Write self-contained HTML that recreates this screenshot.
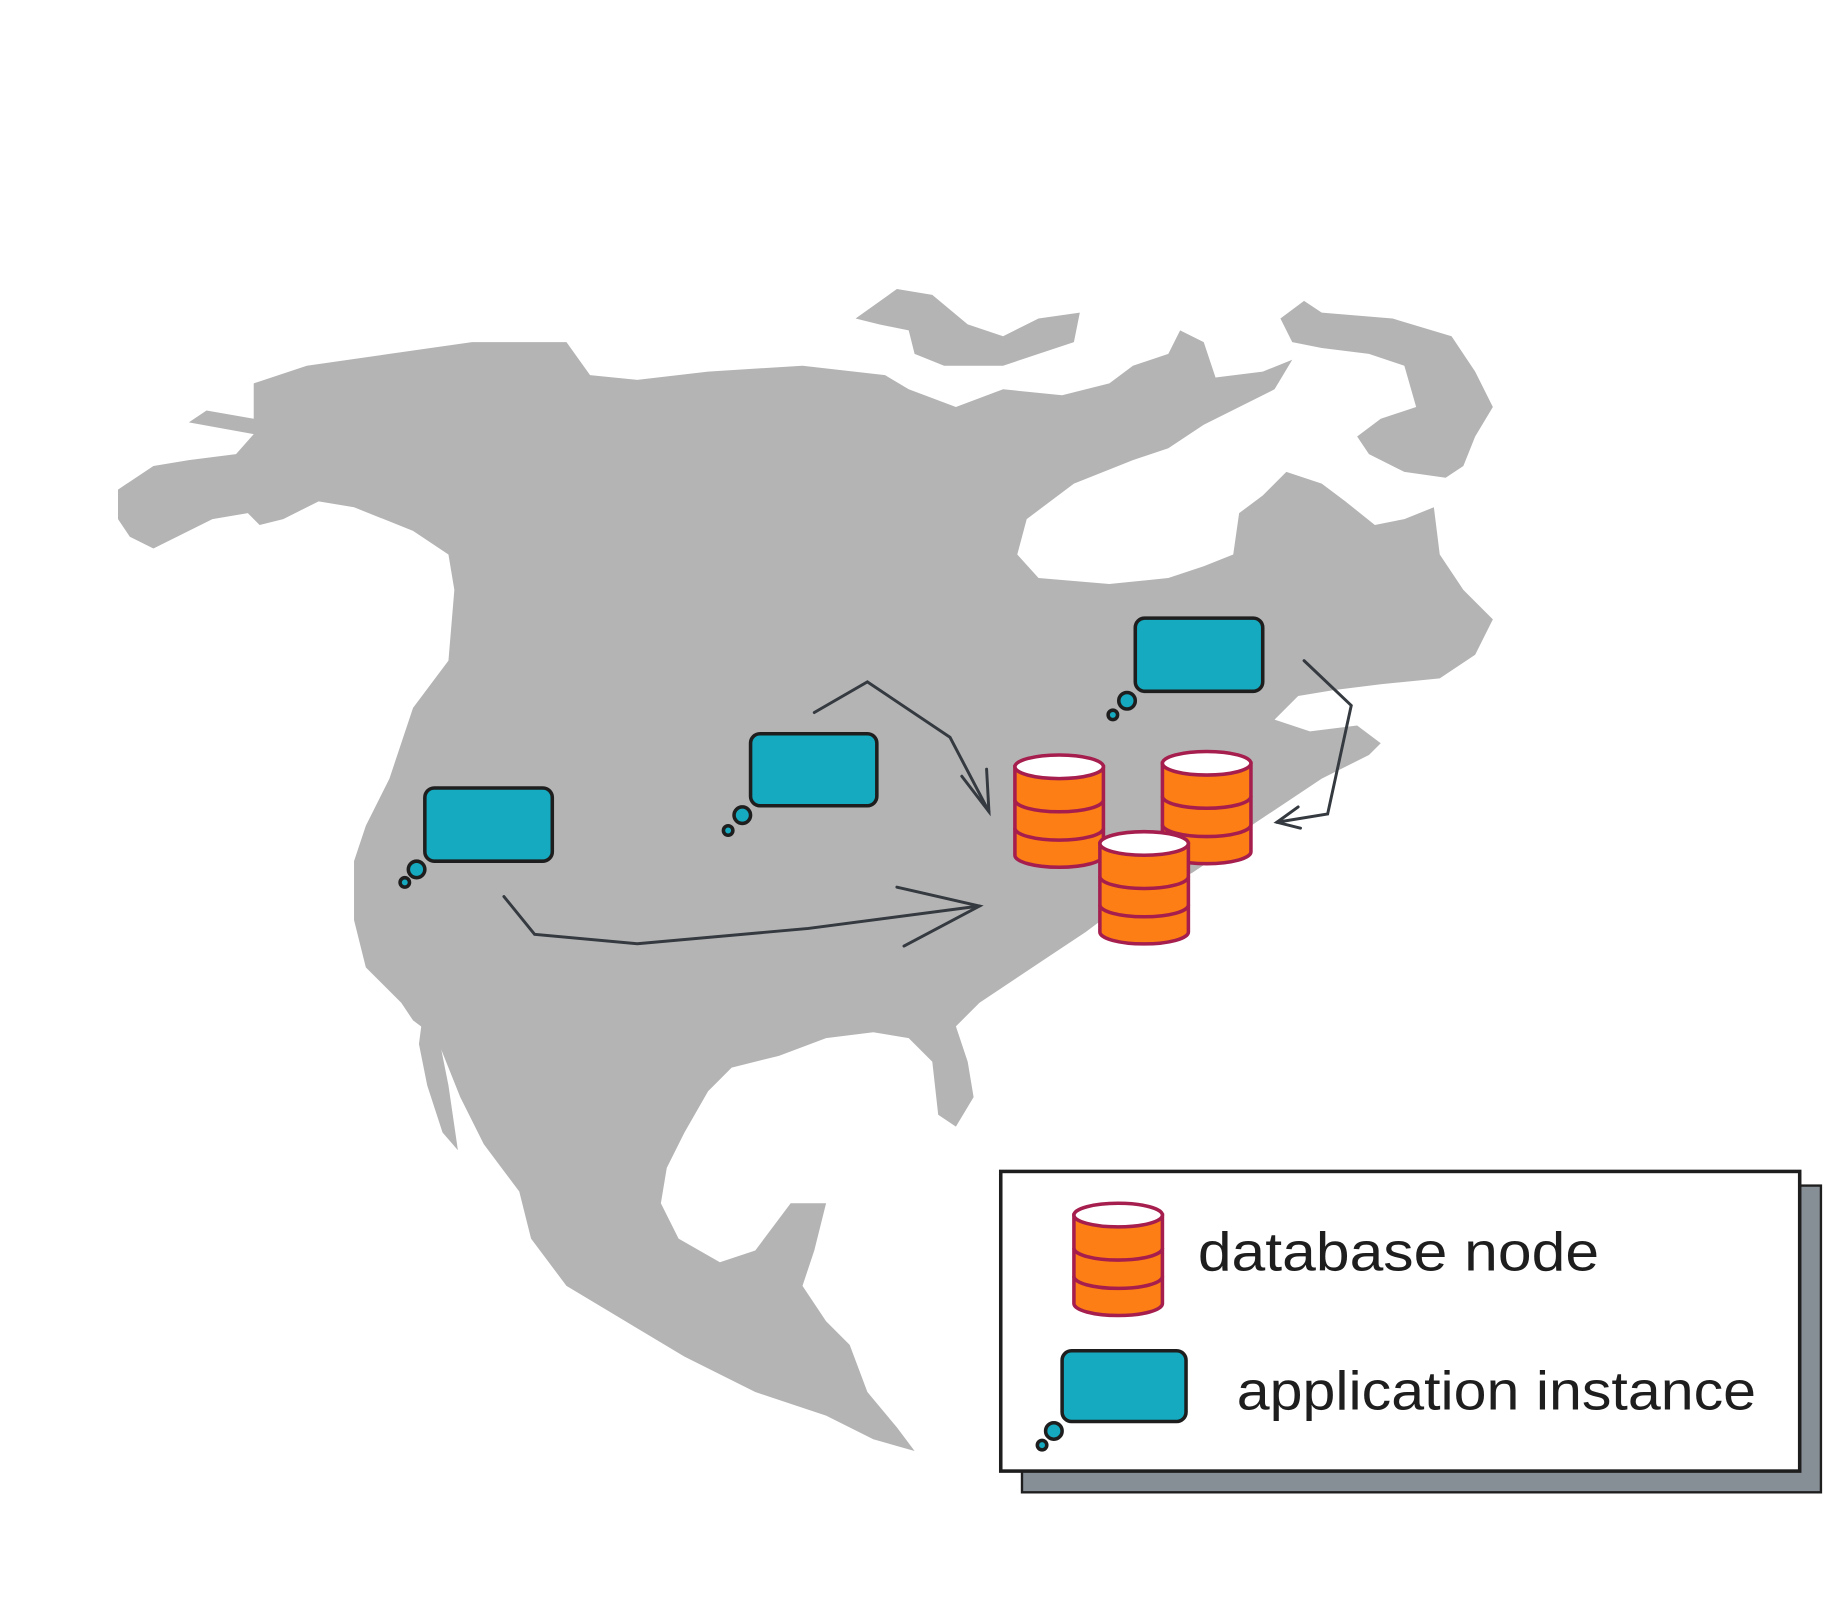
<!DOCTYPE html>
<html><head><meta charset="utf-8"><style>
html,body{margin:0;padding:0;background:#fff}
svg{display:block}
text{font-family:"Liberation Sans","DejaVu Sans",sans-serif;fill:#1e1e1e}
</style></head><body>
<svg width="1841" height="1615" viewBox="0 0 1560 1369" preserveAspectRatio="none" xmlns="http://www.w3.org/2000/svg">
<rect width="1560" height="1369" fill="#fff"/>
<g fill="#b4b4b4">
<path d="M100,415 L130,395 L160,390 L200,385 L215,368 L160,358 L175,348 L215,355 L215,325 L260,310 L330,300 L400,290 L480,290 L500,318 L540,322 L600,315 L680,310 L750,318 L770,330 L810,345 L850,330 L900,335 L940,325 L960,310 L990,300 L1000,280 L1020,290 L1030,320 L1070,315 L1095,305 L1080,330 L1020,360 L990,380 L960,390 L910,410 L870,440 L862,470 L880,490 L940,495 L990,490 L1020,480 L1045,470 L1050,435 L1070,420 L1090,400 L1120,410 L1140,425 L1165,445 L1190,440 L1215,430 L1220,470 L1240,500 L1265,525 L1250,555 L1220,575 L1170,580 L1130,585 L1100,590 L1080,610 L1110,620 L1150,615 L1170,630 L1160,640 L1120,660 L1090,680 L1060,700 L1040,720 L1010,740 L960,760 L920,790 L890,810 L860,830 L830,850 L810,870 L820,900 L825,930 L810,955 L795,945 L790,900 L770,880 L740,875 L700,880 L660,895 L620,905 L600,925 L580,960 L565,990 L560,1020 L575,1050 L610,1070 L640,1060 L670,1020 L700,1020 L690,1060 L680,1090 L700,1120 L720,1140 L735,1180 L760,1210 L775,1230 L740,1220 L700,1200 L640,1180 L580,1150 L530,1120 L480,1090 L450,1050 L440,1010 L410,970 L390,930 L370,880 L350,865 L340,850 L310,820 L300,780 L300,730 L310,700 L330,660 L350,600 L380,560 L385,500 L380,470 L350,450 L300,430 L270,425 L240,440 L220,445 L210,435 L180,440 L160,450 L130,465 L110,455 L100,440 Z"/>
<path d="M358,862 L372,880 L380,920 L388,975 L375,960 L362,920 L355,885 Z"/>
<path d="M1085,270 L1105,255 L1120,265 L1180,270 L1230,285 L1250,315 L1265,345 L1250,370 L1240,395 L1225,405 L1190,400 L1160,385 L1150,370 L1170,355 L1200,345 L1190,310 L1160,300 L1120,295 L1095,290 Z"/>
<path d="M725,270 L760,245 L790,250 L820,275 L850,285 L880,270 L915,265 L910,290 L880,300 L850,310 L800,310 L775,300 L770,280 L745,275 Z"/>
</g>
<g fill="none" stroke="#343a40" stroke-width="2.5" stroke-linecap="round">
<path d="M427,760 L453,792 L540,800 L685,787 L830,768"/>
<path d="M760,752 L830,768 L766,802"/>
<path d="M690,604 L735,578 L805,625 L838,688"/>
<path d="M815,658 L838,688 L836,652"/>
<path d="M1105,560 L1145,598 L1125,690 L1082,697"/>
<path d="M1100,684 L1082,697 L1102,702"/>
</g>
<g fill="#15aabf" stroke="#1e1e1e" stroke-width="3">
<rect x="360" y="668" width="108" height="62" rx="8"/>
<circle cx="353" cy="737" r="7"/><circle cx="343" cy="748" r="4"/>
<rect x="636" y="622" width="107" height="61" rx="8"/>
<circle cx="629" cy="691" r="7"/><circle cx="617" cy="704" r="4"/>
<rect x="962" y="524" width="108" height="62" rx="8"/>
<circle cx="955" cy="594" r="7"/><circle cx="943" cy="606" r="4"/>
</g>
<defs>
<g id="cyl">
<path d="M0,10 L0,85 A37,10 0 0 0 75,85 L75,10 Z" fill="#fd7e14" stroke="#a61e4d" stroke-width="3"/>
<ellipse cx="37.5" cy="10" rx="37.5" ry="10" fill="#fff" stroke="#a61e4d" stroke-width="3"/>
<path d="M0,38 A37,10 0 0 0 75,38 M0,62 A37,10 0 0 0 75,62" fill="none" stroke="#a61e4d" stroke-width="3"/>
</g>
</defs>
<use href="#cyl" x="860" y="640"/>
<use href="#cyl" x="985" y="637"/>
<use href="#cyl" x="932" y="705"/>
<rect x="866" y="1005" width="677" height="260" fill="#868e96" stroke="#1e1e1e" stroke-width="2"/>
<rect x="848" y="993" width="677" height="254" fill="#fff" stroke="#1e1e1e" stroke-width="3"/>
<use href="#cyl" x="910" y="1020"/>
<g fill="#15aabf" stroke="#1e1e1e" stroke-width="3">
<rect x="900" y="1145" width="105" height="60" rx="8"/>
<circle cx="893" cy="1213" r="7"/><circle cx="883" cy="1225" r="4"/>
</g>
<text x="1015" y="1077" font-size="46" textLength="340" lengthAdjust="spacingAndGlyphs">database node</text>
<text x="1048" y="1195" font-size="46" textLength="440" lengthAdjust="spacingAndGlyphs">application instance</text>
</svg>
</body></html>
